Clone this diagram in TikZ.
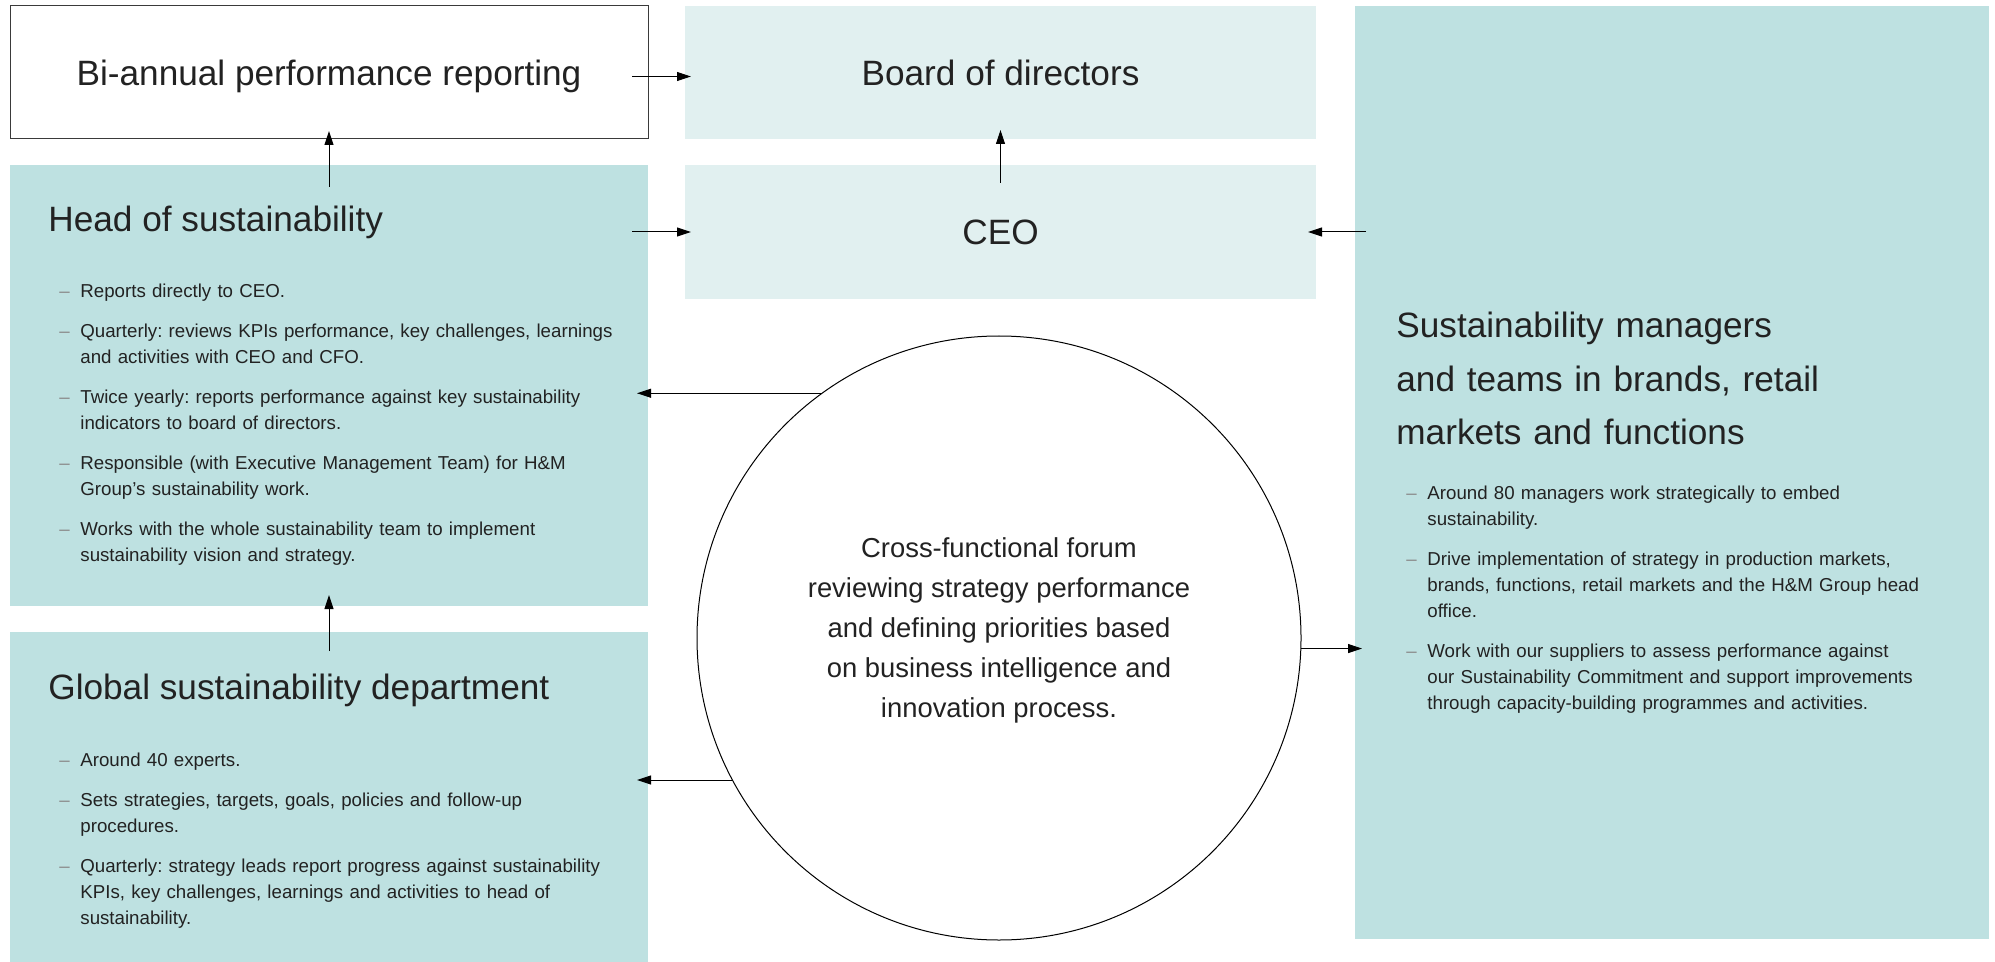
\documentclass[tikz,border=0pt]{standalone}
\usepackage{fontspec}
\setmainfont{Liberation Sans}
\usetikzlibrary{arrows.meta,calc}
\definecolor{tealdark}{HTML}{BEE1E1}
\definecolor{teallight}{HTML}{E1F0F0}
\definecolor{ink}{HTML}{222222}
\definecolor{dashc}{HTML}{8A8A8A}
\definecolor{boxline}{HTML}{3A3A3A}
\newcommand{\titlefont}{\fontsize{17.6}{26.5}\selectfont}
\newcommand{\bodyfont}{\fontsize{9.35}{13}\selectfont}
\newcommand{\circfont}{\fontsize{13.7}{20}\selectfont}
\newcommand{\bitem}{\hangindent=10.5pt\hangafter=1\makebox[10.5pt][l]{\textcolor{dashc}{\textendash}}}
\frenchspacing
\begin{document}
\begin{tikzpicture}[x=0.5pt,y=-0.5pt,
  box/.style={anchor=north west, inner sep=0pt, outer sep=0pt, text=ink, font=\titlefont},
  whitebox/.style={box, draw=boxline, line width=0.5pt, fill=white},
  lightbox/.style={box, fill=teallight},
  darkbox/.style={box, fill=tealdark},
  title/.style={anchor=base west, inner sep=0pt, text=ink, font=\titlefont},
  blist/.style={anchor=base west, inner sep=0pt, text=ink, font=\bodyfont, text width=300pt},
  arr/.style={-{Triangle[length=7pt,width=4.5pt]}, line width=0.5pt, draw=black},
]
\useasboundingbox (0,0) rectangle (1995,962);

% boxes
\node[whitebox, minimum width=319pt, minimum height=66.5pt, text depth=0pt] (bi) at (10,6) {Bi-annual performance reporting};
\node[lightbox, minimum width=315.5pt, minimum height=66.5pt] (board) at (685,6) {Board of directors};
\node[darkbox, minimum width=319pt, minimum height=220.5pt] (head) at (10,165) {};
\node[lightbox, minimum width=315.5pt, minimum height=67pt] (ceo) at (685,165) {CEO};
\node[darkbox, minimum width=319pt, minimum height=165pt] (global) at (10,632) {};
\node[darkbox, minimum width=317pt, minimum height=466.5pt] (right) at (1355,6) {};

% circle
\node[circle, draw=black, line width=0.5pt, minimum size=302pt, inner sep=0pt] (circ) at (999,638) {};
\node[inner sep=0pt, text=ink, font=\circfont, align=center] (circtext) at (999,630)
  {Cross-functional forum\\reviewing strategy performance\\and defining priorities based\\on business intelligence and\\innovation process.};

% titles
\node[title] (headtitle) at (48,232) {Head of sustainability};
\node[title] (globaltitle) at (48,699) {Global sustainability department};
\node[title, text width=310pt] (righttitle) at (1396,338)
  {Sustainability managers\\and teams in brands, retail\\markets and functions};

% bullet lists
\node[blist] (headlist) at (59,298) {\setlength{\parskip}{7pt}%
\bitem Reports directly to CEO.\par
\bitem Quarterly: reviews KPIs performance, key challenges, learnings\newline and activities with CEO and CFO.\par
\bitem Twice yearly: reports performance against key sustainability\newline indicators to board of directors.\par
\bitem Responsible (with Executive Management Team) for H\&M\newline Group’s sustainability work.\par
\bitem Works with the whole sustainability team to implement\newline sustainability vision and strategy.\par};

\node[blist] (globallist) at (59,766) {\setlength{\parskip}{7pt}%
\bitem Around 40 experts.\par
\bitem Sets strategies, targets, goals, policies and follow-up\newline procedures.\par
\bitem Quarterly: strategy leads report progress against sustainability\newline KPIs, key challenges, learnings and activities to head of\newline sustainability.\par};

\node[blist] (rightlist) at (1406,499) {\setlength{\parskip}{7pt}%
\bitem Around 80 managers work strategically to embed\newline sustainability.\par
\bitem Drive implementation of strategy in production markets,\newline brands, functions, retail markets and the H\&M Group head\newline office.\par
\bitem Work with our suppliers to assess performance against\newline our Sustainability Commitment and support improvements\newline through capacity-building programmes and activities.\par};

% connectors
\draw[arr] ($(bi.east)+(-16,4)$) -- ($(board.west)+(6,4)$);
\draw[arr] ($(head.north)+(0,22)$) -- ($(bi.south)+(0,-8)$);
\draw[arr] ($(ceo.north)+(0,18)$) -- ($(board.south)+(0,-9)$);
\draw[arr] ($(head.east |- ceo.west)+(-16,0)$) -- ($(ceo.west)+(6,0)$);
\draw[arr] ($(right.west |- ceo.east)+(11,0)$) -- ($(ceo.east)+(-8,0)$);
\draw[arr] ($(global.north)+(0,19)$) -- ($(head.south)+(0,-11)$);
\draw[arr] (circ.126.1) -- ($(head.east |- circ.126.1)+(-11,0)$);
\draw[arr] (circ.208.5) -- ($(global.east |- circ.208.5)+(-11,0)$);
\draw[arr] (circ.-2.8) -- ($(right.west |- circ.-2.8)+(7,0)$);
\end{tikzpicture}
\end{document}
